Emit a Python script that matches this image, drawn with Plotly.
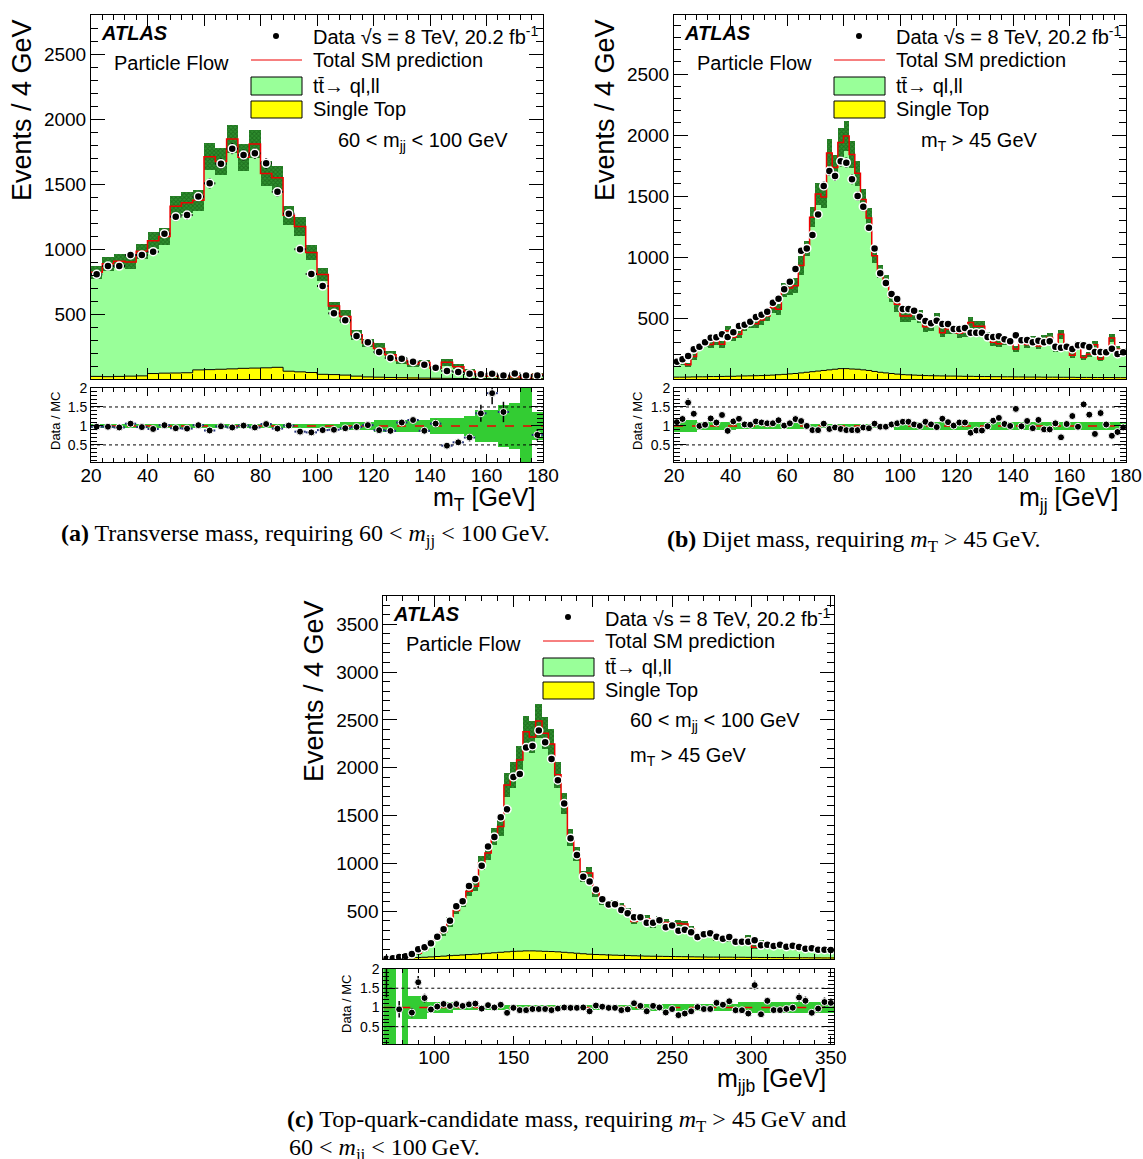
import math
import plotly.graph_objects as go

W, H = 1143, 1159
FONT = "Liberation Sans"
SERIF = "Liberation Serif"

# ---------------- data ----------------
# (a) transverse mass m_T, 20-180 GeV, 4 GeV bins
a_lo, a_hi, a_binw = 20, 180, 4
a_data = [805, 869, 869, 954, 954, 979, 1118, 1249, 1261, 1403, 1505, 1656, 1772, 1723, 1736, 1659,
          1441, 1272, 998, 808, 715, 505, 451, 331, 282, 208, 162, 156, 133, 110, 87, 62, 54, 41,
          36, 41, 26, 43, 26, 26]
a_mc = [821, 887, 905, 900, 983, 1064, 1096, 1329, 1356, 1375, 1710, 1673, 1846, 1706, 1808, 1580,
        1549, 1259, 1174, 973, 803, 561, 480, 341, 276, 234, 186, 143, 115, 126, 82, 129, 95, 59,
        27, 22, 19, 18, 10, 34]
a_stop = [20, 18, 20, 22, 24, 42, 45, 46, 48, 70, 72, 75, 78, 82, 84, 86, 90, 60, 55, 50, 36, 34,
          30, 22, 16, 14, 12, 10, 8, 7, 6, 5, 4, 4, 3, 3, 2, 2, 2, 2]
a_unc = [0.06] * 22 + [0.11] * 3 + [0.17] * 5 + [0.2] * 3 + [0.26, 0.41, 0.41, 0.55, 0.6, 1.5, 0.37]

# (b) dijet mass m_jj, 20-180 GeV, 2 GeV bins
b_lo, b_hi, b_binw = 20, 180, 2
b_data = [142, 161, 189, 243, 265, 301, 339, 342, 366, 344,
          383, 435, 445, 470, 508, 527, 552, 626, 658, 735,
          798, 902, 1052, 1071, 1181, 1350, 1583, 1706, 1665, 1785,
          1774, 1638, 1501, 1413, 1241, 1071, 867, 787, 697, 656,
          574, 574, 560, 511, 476, 457, 478, 451, 451, 410,
          410, 418, 380, 380, 380, 344, 344, 350, 326, 309,
          358, 317, 320, 301, 314, 301, 309, 265, 257, 265,
          246, 276, 276, 262, 221, 221, 219, 249, 205, 219]
b_mc = [129, 136, 117, 184, 265, 292, 283, 314, 284, 395,
        342, 366, 428, 456, 454, 483, 516, 585, 572, 728,
        746, 764, 931, 1071, 1327, 1517, 1493, 1854, 1734, 1940,
        1993, 1840, 1687, 1472, 1320, 1010, 885, 803, 670, 613,
        517, 517, 538, 511, 429, 439, 493, 379, 410, 406,
        376, 383, 463, 432, 432, 347, 302, 289, 310, 309,
        247, 320, 283, 320, 271, 331, 340, 248, 367, 252,
        195, 282, 176, 202, 280, 165, 211, 336, 244, 228]
b_stop = [15, 15, 16, 17, 18, 18, 20, 20, 21, 22, 22, 24, 25, 26, 27, 28, 30, 32, 35, 38,
          42, 45, 50, 55, 60, 65, 70, 75, 80, 85, 85, 82, 80, 75, 70, 62, 55, 50, 45, 40,
          36, 34, 32, 30, 28, 27, 26, 25, 24, 24, 23, 22, 22, 21, 20, 20, 19, 19, 18, 18,
          17, 17, 16, 16, 16, 15, 15, 15, 14, 14, 14, 13, 13, 13, 12, 12, 12, 12, 11, 11]
b_unc = [0.15] * 4 + [0.1] * 7 + [0.08] * 12 + [0.06] * 16 + [0.1] * 41

# (c) top-quark-candidate mass m_jjb, 68-352 GeV, 4 GeV bins
c_lo, c_hi, c_binw = 68, 352, 4
c_data = [3, 7, 20, 30, 52, 101, 122, 164, 233, 311, 401, 551, 603, 764, 837, 976, 1175, 1276,
          1482, 1565, 1904, 1935, 2210, 2228, 2388, 2267, 2092, 1869, 1625, 1262, 1088, 861, 809,
          727, 624, 570, 572, 513, 478, 436, 436, 380, 380, 405, 332, 349, 296, 307, 279, 230,
          258, 269, 233, 212, 230, 181, 181, 181, 196, 143, 150, 136, 150, 129, 139, 126, 108,
          112, 97, 97, 94]
c_mc = [1, 2, 21, 10, 60, 61, 98, 173, 228, 285, 386, 506, 580, 707, 761, 1006, 1108, 1276, 1385,
        1820, 1923, 2081, 2376, 2321, 2488, 2361, 2249, 1927, 1625, 1275, 1099, 861, 899, 692, 612,
        576, 578, 552, 503, 393, 419, 422, 365, 405, 382, 364, 370, 365, 310, 228, 269, 280, 208,
        198, 198, 195, 195, 215, 124, 174, 128, 146, 161, 134, 140, 100, 92, 130, 100, 85, 84]
c_stop = [2, 3, 5, 8, 12, 15, 18, 22, 26, 30, 35, 38, 42, 46, 50, 55, 60, 65, 70, 75, 80, 82, 85,
          85, 83, 80, 78, 75, 70, 65, 60, 55, 50, 47, 45, 42, 40, 38, 36, 34, 32, 30, 29, 28, 27,
          26, 25, 24, 23, 22, 21, 20, 20, 19, 19, 18, 18, 17, 17, 16, 16, 15, 15, 14, 14, 13, 13,
          12, 12, 11, 11]
c_unc = [3.0, 3.0, 0.0, 3.0] + [0.3] * 3 + [0.14] * 4 + [0.07] * 30 + [0.1] * 15 + [0.15] * 15

# ---------------- helpers ----------------
def fx(p):
    return p / W


def fy(p):
    return 1 - p / H


fig = go.Figure()
annotations = []
shapes = []


def ann(text, x, y, size, xanchor="left", yanchor="middle", family=FONT, angle=0, color="black"):
    annotations.append(dict(text=text, x=fx(x), y=fy(y), xref="paper", yref="paper",
                            xanchor=xanchor, yanchor=yanchor, showarrow=False, textangle=angle,
                            font=dict(family=family, size=size, color=color)))


panels = [
    dict(lo=a_lo, hi=a_hi, bw=a_binw, data=a_data, mc=a_mc, stop=a_stop, unc=a_unc,
         xpx=(91, 543), main=(379, 15), ratio=(462, 388), ymax=2800, xrange=(20, 180),
         xticks=list(range(20, 181, 20)), xminor=4, xerr=True, ax=(1, 2)),
    dict(lo=b_lo, hi=b_hi, bw=b_binw, data=b_data, mc=b_mc, stop=b_stop, unc=b_unc,
         xpx=(674, 1126), main=(379, 15), ratio=(462, 388), ymax=2985, xrange=(20, 180),
         xticks=list(range(20, 181, 20)), xminor=4, xerr=False, ax=(3, 4)),
    dict(lo=c_lo, hi=c_hi, bw=c_binw, data=c_data, mc=c_mc, stop=c_stop, unc=c_unc,
         xpx=(383.3, 834), main=(959, 596), ratio=(1044, 969), ymax=3795, xrange=(68, 352),
         xticks=list(range(100, 351, 50)), xminor=10, xerr=False, ax=(5, 6)),
]

layout_axes = {}
for p in panels:
    n = len(p["data"])
    centers = [p["lo"] + (i + 0.5) * p["bw"] for i in range(n)]
    edges = [p["lo"] + i * p["bw"] for i in range(n + 1)]
    im, ir = p["ax"]
    xm, ym = f"x{im}", f"y{im}"
    xr, yr = f"x{ir}", f"y{ir}"
    mc, data, stop, unc = p["mc"], p["data"], p["stop"], p["unc"]

    # ---- main panel ----
    fig.add_trace(go.Bar(x=centers, y=mc, width=p["bw"], marker=dict(color="#99ff99", line_width=0),
                         xaxis=xm, yaxis=ym, showlegend=False))
    fig.add_trace(go.Bar(x=centers, y=stop, width=p["bw"], marker=dict(color="#ffff00", line_width=0),
                         xaxis=xm, yaxis=ym, showlegend=False))
    um = [min(u, 0.95) for u in unc]
    fig.add_trace(go.Bar(x=centers, y=[2 * m * u for m, u in zip(mc, um)],
                         base=[m * (1 - u) for m, u in zip(mc, um)], width=p["bw"],
                         marker=dict(color="#2f8f2f", line_width=0,
                                     pattern=dict(shape="x", fgcolor="#0b4f0b", size=3, solidity=0.5)),
                         xaxis=xm, yaxis=ym, showlegend=False))
    fig.add_trace(go.Scatter(x=edges, y=stop + [stop[-1]], mode="lines", line_shape="hv",
                             line=dict(color="black", width=1), xaxis=xm, yaxis=ym, showlegend=False))
    fig.add_trace(go.Scatter(x=edges, y=mc + [mc[-1]], mode="lines", line_shape="hv",
                             line=dict(color="#ee0000", width=1.5), xaxis=xm, yaxis=ym, showlegend=False))
    ex = dict(type="constant", value=p["bw"] / 2, color="black", thickness=2, width=0) if p["xerr"] else None
    fig.add_trace(go.Scatter(x=centers, y=data, mode="markers",
                             marker=dict(color="black", size=8, line=dict(color="white", width=1.5)),
                             error_y=dict(type="data", array=[math.sqrt(d) for d in data],
                                          color="black", thickness=2, width=0),
                             error_x=ex, xaxis=xm, yaxis=ym, showlegend=False))

    # ---- ratio panel ----
    fig.add_trace(go.Bar(x=centers, y=[2 * u for u in unc], base=[1 - u for u in unc], width=p["bw"],
                         marker=dict(color="#33cc33", line_width=0), xaxis=xr, yaxis=yr, showlegend=False))
    for lvl in (0.5, 1.5):
        fig.add_trace(go.Scatter(x=list(p["xrange"]), y=[lvl, lvl], mode="lines",
                                 line=dict(color="black", width=1, dash="dot"),
                                 xaxis=xr, yaxis=yr, showlegend=False))
    fig.add_trace(go.Scatter(x=list(p["xrange"]), y=[1, 1], mode="lines",
                             line=dict(color="#ee0000", width=1.5, dash="dash"),
                             xaxis=xr, yaxis=yr, showlegend=False))
    ratio = [d / m for d, m in zip(data, mc)]
    rerr = [math.sqrt(d) / m for d, m in zip(data, mc)]
    exr = dict(type="constant", value=p["bw"] / 2, color="#22307a", thickness=2, width=0) if p["xerr"] else None
    fig.add_trace(go.Scatter(x=centers, y=ratio, mode="markers",
                             marker=dict(color="black", size=7, line=dict(color="white", width=1)),
                             error_y=dict(type="data", array=rerr, color="black", thickness=1.5, width=0),
                             error_x=exr, xaxis=xr, yaxis=yr, showlegend=False))

    xdom = [fx(p["xpx"][0]), fx(p["xpx"][1])]
    common = dict(showline=True, linecolor="black", linewidth=1, mirror="allticks", ticks="inside",
                  showgrid=False, zeroline=False, tickcolor="black", automargin=False,
                  tickfont=dict(family=FONT, size=19, color="black"))
    layout_axes[f"xaxis{im}"] = dict(common, domain=xdom, anchor=ym, range=list(p["xrange"]),
                                     tickmode="array", tickvals=p["xticks"], ticklen=11,
                                     showticklabels=False,
                                     minor=dict(tickmode="linear", tick0=0, dtick=p["xminor"],
                                                ticks="inside", ticklen=5, tickcolor="black"))
    layout_axes[f"yaxis{im}"] = dict(common, domain=[fy(p["main"][0]), fy(p["main"][1])], anchor=xm,
                                     range=[0, p["ymax"]], tickmode="array",
                                     tickvals=list(range(500, p["ymax"], 500)), ticklen=14,
                                     minor=dict(tickmode="linear", tick0=0, dtick=100,
                                                ticks="inside", ticklen=7, tickcolor="black"))
    layout_axes[f"xaxis{ir}"] = dict(common, domain=xdom, anchor=yr, range=list(p["xrange"]),
                                     tickmode="array", tickvals=p["xticks"], ticklen=8,
                                     ticklabelstandoff=-4,
                                     minor=dict(tickmode="linear", tick0=0, dtick=p["xminor"],
                                                ticks="inside", ticklen=4, tickcolor="black"))
    layout_axes[f"yaxis{ir}"] = dict(common, domain=[fy(p["ratio"][0]), fy(p["ratio"][1])], anchor=xr,
                                     range=[0.05, 2.0], tickmode="array", tickvals=[0.5, 1, 1.5, 2],
                                     ticktext=["0.5", "1", "1.5", "2"], ticklen=12,
                                     tickfont=dict(family=FONT, size=14, color="black"),
                                     minor=dict(tickmode="linear", tick0=0, dtick=0.1,
                                                ticks="inside", ticklen=6, tickcolor="black"))

# ---------------- legends & texts ----------------
ttbar = "t" + "t\u0304" + "\u2192 ql,ll"


def legend(x0, y0, extra):
    # x0: left of legend boxes, y0: y of first entry
    ann("<b><i>ATLAS</i></b>", x0 - 152, y0 - 3, 20)
    ann("Particle Flow", x0 - 139, y0 + 27, 20)
    shapes.append(dict(type="circle", xref="paper", yref="paper", x0=fx(x0 + 22), x1=fx(x0 + 28),
                       y0=fy(y0 + 3), y1=fy(y0 - 3), fillcolor="black", line=dict(width=0)))
    ann("Data \u221as = 8 TeV, 20.2 fb<sup>-1</sup>", x0 + 60, y0, 20)
    shapes.append(dict(type="line", xref="paper", yref="paper", x0=fx(x0), x1=fx(x0 + 51),
                       y0=fy(y0 + 24), y1=fy(y0 + 24), line=dict(color="#ee0000", width=1)))
    ann("Total SM prediction", x0 + 60, y0 + 24, 20)
    shapes.append(dict(type="rect", xref="paper", yref="paper", x0=fx(x0), x1=fx(x0 + 51),
                       y0=fy(y0 + 59), y1=fy(y0 + 41), fillcolor="#99ff99",
                       line=dict(color="black", width=1)))
    ann(ttbar, x0 + 60, y0 + 50, 20)
    shapes.append(dict(type="rect", xref="paper", yref="paper", x0=fx(x0), x1=fx(x0 + 51),
                       y0=fy(y0 + 82), y1=fy(y0 + 65), fillcolor="#ffff00",
                       line=dict(color="black", width=1)))
    ann("Single Top", x0 + 60, y0 + 73, 20)
    for txt, xx, yy in extra:
        ann(txt, xx, yy, 20)


legend(251, 36, [("60 &lt; m<sub>jj</sub> &lt; 100 GeV", 336, 141)])
legend(834, 36, [("m<sub>T</sub> &gt; 45 GeV", 919, 141)])
legend(543, 617, [("60 &lt; m<sub>jj</sub> &lt; 100 GeV", 628, 721), ("m<sub>T</sub> &gt; 45 GeV", 628, 756)])

# axis titles
for xc, yc in ((22, 110), (605, 110), (314, 691)):
    ann("Events / 4 GeV", xc, yc, 27, xanchor="center", yanchor="middle", angle=-90)
for xc, yc in ((55, 421), (637, 421), (346, 1004)):
    ann("Data / MC", xc, yc, 13, xanchor="center", yanchor="middle", angle=-90)
ann("m<sub>T</sub> [GeV]", 537, 499, 25, xanchor="right")
ann("m<sub>jj</sub> [GeV]", 1120, 499, 25, xanchor="right")
ann("m<sub>jjb</sub> [GeV]", 828, 1080, 25, xanchor="right")

# captions
ann("<b>(a)</b> Transverse mass, requiring 60 &lt; <i>m</i><sub>jj</sub> &lt; 100\u2009GeV.",
    305, 535, 24, xanchor="center", family=SERIF)
ann("<b>(b)</b> Dijet mass, requiring <i>m</i><sub>T</sub> &gt; 45\u2009GeV.",
    853, 541, 24, xanchor="center", family=SERIF)
ann("<b>(c)</b> Top-quark-candidate mass, requiring <i>m</i><sub>T</sub> &gt; 45\u2009GeV and",
    285, 1121, 24, family=SERIF)
ann("60 &lt; <i>m</i><sub>jj</sub> &lt; 100\u2009GeV.", 287, 1149, 24, family=SERIF)

fig.update_layout(width=W, height=H, margin=dict(l=0, r=0, t=0, b=0), autosize=False,
                  paper_bgcolor="white", plot_bgcolor="white", barmode="overlay", bargap=0,
                  showlegend=False, annotations=annotations, shapes=shapes, **layout_axes)

fig.write_html("out.html", config={"displayModeBar": False},
               post_script="document.body.style.margin='0';document.body.style.overflow='hidden';")
